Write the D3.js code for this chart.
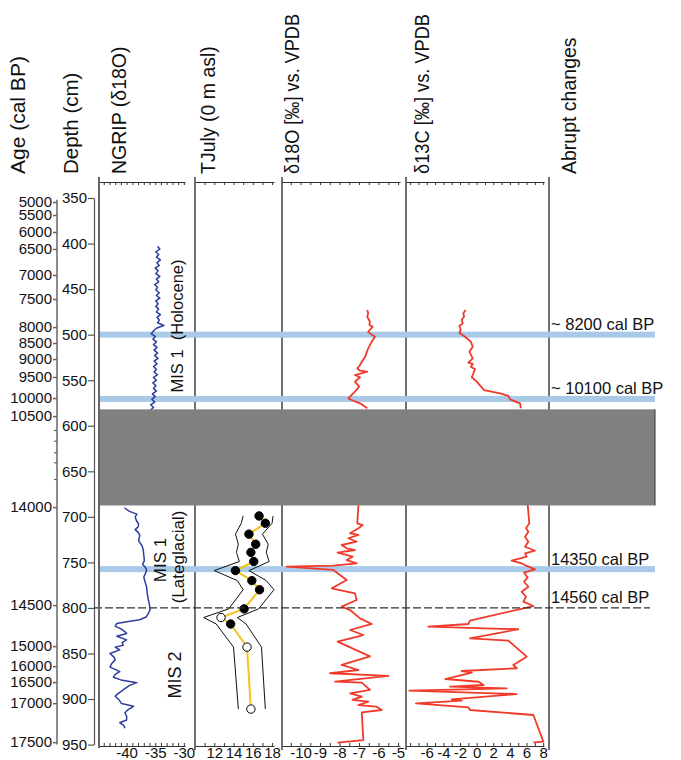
<!DOCTYPE html>
<html><head><meta charset="utf-8">
<script src="https://cdn.jsdelivr.net/npm/d3@7"></script>
<style>
body{margin:0;background:#fff}
text{font-family:"Liberation Sans",Arial,Helvetica,sans-serif;fill:#111}
</style>
</head><body>
<svg id="c" width="681" height="760"></svg>
<script>
// ---------------- DATA ----------------
const headerLabels = ["Age (cal BP)","Depth (cm)","NGRIP (δ18O)","TJuly (0 m asl)","δ18O [‰] vs. VPDB","δ13C [‰] vs. VPDB","Abrupt changes"];

const depthTicks = [350,400,450,500,550,600,650,700,750,800,850,900,950];
const ageLabels = [5000,5500,6000,6500,7000,7500,8000,8500,9000,9500,10000,10500,14000,14500,15000,16000,16500,17000,17500];
const ageDepths = [354.4,368.7,387.3,406,434.5,460.9,491.7,509.2,526.8,546.5,569.6,589.4,689.3,796.9,841.9,863.9,881.4,904.5,947.3];
const ageMinorDepths = [604.7,616.4,629.1,640.1,658.4];

const eventLabels = ["~ 8200 cal BP","~ 10100 cal BP","14350 cal BP","14560 cal BP"];
const bandDepths = [500,570.6,757.4];
const boundaryDepth = 800;
const hiatusDepths = [582,687.5];

// NGRIP δ18O (‰)
const ngripDepthA = [403,406,409,412,415,418,421,424,427,430,433,436,439,442,445,448,451,454,457,460,463,466,469,472,475,478,481,484,487,490,493,496,499,502,505,508,511,514,517,520,523,526,529,532,535,538,541,544,547,550,553,556,559,562,565,568,571,574,577,580,583,586];
const ngripA = [-34.6,-34.2,-34.9,-34.4,-34.8,-34.1,-34.7,-34.3,-35.0,-34.5,-34.9,-34.2,-34.8,-34.4,-35.1,-34.6,-34.9,-34.3,-34.8,-34.2,-34.9,-34.5,-34.9,-34.4,-34.8,-34.1,-34.7,-34.3,-34.6,-33.5,-34.8,-35.3,-35.7,-35.0,-35.4,-34.8,-35.3,-34.7,-35.2,-34.6,-35.1,-34.5,-35.2,-34.7,-35.3,-34.8,-35.2,-34.6,-35.3,-34.8,-35.4,-34.9,-35.3,-34.8,-35.5,-35.0,-35.6,-35.1,-35.8,-35.3,-35.9,-35.5];
const ngripDepthB = [690,694,697,700,704,708,711,714,717,720,726,732,736,742,748,752,755,758,762,766,771,777,784,791,797,802,806,810,813,815,817,820,823,826,828,831,835,838,841,843,846,850,854,857,861,865,868,870,873,876,879,882,885,890,894,897,901,905,908,912,915,919,923,926,929,932];
const ngripB = [-40.4,-39.5,-38.2,-38.5,-38.3,-37.9,-38.0,-38.5,-38.0,-37.7,-37.9,-37.3,-37.1,-37.0,-36.9,-37.2,-36.8,-36.5,-36.7,-37.0,-36.8,-36.5,-36.4,-36.2,-36.0,-35.9,-36.2,-36.6,-37.7,-39.7,-41.7,-42.0,-41.0,-40.3,-40.0,-41.7,-40.0,-40.8,-40.6,-42.0,-41.2,-42.9,-42.2,-42.0,-42.6,-42.9,-41.8,-41.2,-42.0,-42.3,-41.0,-38.2,-39.5,-40.6,-41.5,-42.0,-41.3,-40.9,-38.8,-39.8,-40.3,-40.0,-40.0,-41.2,-40.5,-40.3];

// TJuly (°C)
const tDepth = [699,707,719,730,739,749,759,770,780,801,810.5,817.6,843,911];
const tJuly  = [16.65,17.3,15.6,16.3,15.8,16.1,14.2,15.9,16.7,15.1,12.7,13.7,15.4,15.8];
const tFilled = [1,1,1,1,1,1,1,1,1,1,0,1,0,0];
const tLow  = [15.0,14.8,14.2,14.5,14.3,14.6,12.0,14.4,15.0,13.5,10.9,12.2,14.0,14.5];
const tHigh = [18.1,18.0,17.0,17.6,17.4,17.7,15.6,17.4,18.2,16.6,14.4,15.3,16.9,17.3];

// δ18O (‰ VPDB)
const o18DepthA = [472.9,476.6,480.3,485.8,489.4,491.3,496.8,498.6,502.3,507.7,515,524.2,529.7,533.3,536.9,539.6,540.7,544.3,546.8,551.6,557.1,562.6,569.9,571.7,575.4,580.8];
const o18A = [-6.58,-6.53,-6.58,-6.44,-6.47,-6.30,-6.53,-6.44,-6.18,-6.35,-6.53,-6.69,-6.86,-6.95,-7.09,-6.95,-6.58,-7.21,-6.95,-7.21,-6.99,-7.21,-7.55,-7.38,-6.95,-6.58];
const o18DepthB = [687,707.1,709,712.6,718.1,719.9,723.5,727.3,730.9,734.5,736.4,739.3,743.7,747.4,751,753.6,754.7,758.3,769.3,778.4,784,791.3,798.6,802.3,811.4,817.6,824.2,829.7,837,853.2,862.6,868.1,871.7,874.6,880.9,882,890,893.7,897.4,901,902.9,906.6,908.4,912,914.6,945,947.9];
const o18B = [-7.03,-7.09,-6.81,-7.03,-7.46,-7.03,-7.55,-7.12,-7.89,-7.63,-7.21,-8.1,-7.33,-7.63,-7.12,-8.32,-10.71,-8.32,-7.63,-8.4,-7.21,-7.12,-7.89,-7.46,-6.95,-6.35,-7.46,-6.78,-8.1,-6.44,-7.89,-7.03,-8.49,-5.49,-8.23,-6.86,-6.44,-7.46,-6.86,-7.33,-6.52,-7.03,-6.1,-5.84,-6.86,-6.78,-8.1];

// δ13C (‰ VPDB)
const c13DepthA = [472.9,476.6,480.3,483.9,487.6,490.5,494.9,497.9,502.3,507.7,513.2,518.7,526,530.8,532.2,535.2,538,546.8,551.6,560.8,564.4,567.3,571,575.4,580.8];
const c13A = [-1.32,-1.6,-1.52,-1.8,-1.67,-2.08,-1.91,-2.08,-1.40,-0.71,-0.47,-0.88,-0.47,-1.0,-0.47,-0.71,-0.19,-0.59,0.01,0.89,2.82,3.82,4.02,5.22,5.31];
const c13DepthB = [687,707.1,712.6,716.3,721.8,727.3,732.8,737.2,740,743.7,748.1,751,753.9,757.6,761.3,766.4,771.2,776.7,782.2,787.7,793.1,797.9,814,817.6,820.6,823.4,833.3,835.9,853.5,862.6,866.2,869.2,871,878,881,884.6,886.4,888.2,890.8,894.5,900.3,901.8,904.7,909.1,912,917.5,946.8,947.5];
const c13B = [6.14,6.33,5.94,6.22,5.82,6.22,5.82,7.02,5.82,6.02,4.21,5.41,6.02,7.02,5.70,6.14,5.70,6.22,5.41,5.94,5.62,6.82,-0.8,-1.0,-5.82,5.01,-0.8,3.82,6.02,4.41,4.82,-1.8,-0.59,-3.77,0.23,0.83,-3.2,3.62,-8.1,4.81,-3.0,-1.8,-7.3,-1.0,-0.8,6.82,8.02,6.82];

// axis tick values
const ngripMinor = [-44,-43,-42,-41,-40,-39,-38,-37,-36,-35,-34,-33,-32,-31,-30];
const ngripLabels = [-40,-35,-30];
const tMinor = [11,12,13,14,15,16,17,18];
const tLabels = [12,14,16,18];
const o18Minor = [-10.5,-10,-9.5,-9,-8.5,-8,-7.5,-7,-6.5,-6,-5.5,-5];
const o18Labels = [-10,-9,-8,-7,-6,-5];
const c13Minor = [-8,-7,-6,-5,-4,-3,-2,-1,0,1,2,3,4,5,6,7,8];
const c13Labels = [-6,-4,-2,0,2,4,6,8];

// ---------------- DRAW ----------------
const svg = d3.select("#c");
const y = d3.scaleLinear().domain([350,950]).range([198,744.6]);
const xNG = d3.scaleLinear().domain([-45,-29.8]).range([98,185]);
const xT  = d3.scaleLinear().domain([10,18.2]).range([195,274]);
const xO  = d3.scaleLinear().domain([-10.95,-4.9]).range([282,400]);
const xC  = d3.scaleLinear().domain([-8.5,8.1]).range([406,544]);
const TOP = 182, BOT = 746, XR = 655;
const blue = "#2d3e9c", red = "#f03a2a", yellow = "#f5c31c", band = "#a9c9e8";
const FONT = '"Liberation Sans",Arial,sans-serif';

// headers (rotated)
const hdrX = [25,78,126,215,299,429,576];
const hdrSize = [21,20.5,19.5,19.5,19.5,19.5,19.5];
const hdrLen = [null,null,null,null,160,160,null];
headerLabels.forEach((t,i)=>{
  const tx = svg.append("text").attr("transform",`translate(${hdrX[i]},174) rotate(-90)`)
    .attr("font-size",hdrSize[i]).text(t);
  if (hdrLen[i]) tx.attr("textLength",hdrLen[i]).attr("lengthAdjust","spacingAndGlyphs");
});

// panel borders
[195,282,406,549].forEach(x=>{
  svg.append("line").attr("x1",x).attr("x2",x).attr("y1",177).attr("y2",750)
    .attr("stroke","#111").attr("stroke-width",1.2);
});

// top & bottom axes for each panel
function panelAxes(sc, minor, labels){
  const top = d3.axisTop(sc).tickValues(minor).tickFormat("").tickSizeInner(-3).tickSizeOuter(0);
  svg.append("g").attr("transform",`translate(0,${TOP})`).call(top)
    .call(g=>g.selectAll("path,line").attr("stroke","#333"));
  const bot = d3.axisBottom(sc).tickValues(minor)
    .tickFormat(d=> labels.includes(d) ? String(d) : "")
    .tickSizeInner(-3).tickSizeOuter(0).tickPadding(1.5);
  svg.append("g").attr("transform",`translate(0,${BOT})`).call(bot)
    .call(g=>g.selectAll("path,line").attr("stroke","#333"))
    .call(g=>g.selectAll("text").attr("font-size",15).attr("font-family",FONT).attr("fill","#111"));
}
panelAxes(xNG, ngripMinor, ngripLabels);
panelAxes(xT, tMinor, tLabels);
panelAxes(xO, o18Minor, o18Labels);
panelAxes(xC, c13Minor, c13Labels);

// depth axis
svg.append("g").attr("transform","translate(94,0)")
  .call(d3.axisLeft(y).tickValues(depthTicks).tickSizeInner(6).tickSizeOuter(0).tickPadding(1))
  .call(g=>g.selectAll("path,line").attr("stroke","#555").attr("stroke-width",1.2))
  .call(g=>g.selectAll("text").attr("font-size",15).attr("font-family",FONT).attr("fill","#111"));

// age axis (non-linear: ticks placed at their depth)
svg.append("g").attr("transform","translate(57,0)")
  .call(d3.axisLeft(y).tickValues(ageDepths).tickFormat((d,i)=>ageLabels[i]).tickSizeInner(4).tickSizeOuter(0).tickPadding(1))
  .call(g=>g.select("path").attr("d",`M0,${y(352)}V${y(950)}`))
  .call(g=>g.selectAll("path,line").attr("stroke","#666").attr("stroke-width",1.5))
  .call(g=>g.selectAll("text").attr("font-size",15).attr("font-family",FONT).attr("fill","#111"));
svg.append("g").attr("transform","translate(57,0)")
  .call(d3.axisLeft(y).tickValues(ageMinorDepths).tickFormat("").tickSizeInner(3).tickSizeOuter(0))
  .call(g=>g.select("path").remove())
  .call(g=>g.selectAll("line").attr("stroke","#666").attr("stroke-width",1.2));

// blue bands
svg.selectAll("rect.band").data(bandDepths).join("rect").attr("class","band")
  .attr("x",99).attr("width",XR-99).attr("y",d=>y(d)-3).attr("height",6).attr("fill",band);

// lines
const mk = (xs, depths, vals)=> d3.line().x((d,i)=>xs(vals[i])).y((d,i)=>y(depths[i]))(depths);
function path(xs, depths, vals, col, w){
  svg.append("path").attr("d",mk(xs,depths,vals)).attr("fill","none").attr("stroke",col)
    .attr("stroke-width",w).attr("stroke-linejoin","round");
}
path(xNG, ngripDepthA, ngripA, blue, 1.5);
path(xNG, ngripDepthB, ngripB, blue, 1.5);
path(xO, o18DepthA, o18A, red, 1.8);
path(xO, o18DepthB, o18B, red, 1.8);
path(xC, c13DepthA, c13A, red, 1.8);
path(xC, c13DepthB, c13B, red, 1.8);

// TJuly envelope and points
path(xT, tDepth, tLow, "#111", 1);
path(xT, tDepth, tHigh, "#111", 1);
path(xT, tDepth, tJuly, yellow, 2);
svg.selectAll("circle.tj").data(tDepth).join("circle").attr("class","tj")
  .attr("cx",(d,i)=>xT(tJuly[i])).attr("cy",d=>y(d)).attr("r",4.2)
  .attr("fill",(d,i)=>tFilled[i]?"#000":"#fff").attr("stroke","#000").attr("stroke-width",1);

// boundary dashed line
svg.append("line").attr("x1",94).attr("x2",650).attr("y1",y(boundaryDepth)).attr("y2",y(boundaryDepth))
  .attr("stroke","#333").attr("stroke-width",1.3).attr("stroke-dasharray","8,3");

// hiatus box
svg.append("rect").attr("x",99).attr("width",XR-99).attr("y",y(hiatusDepths[0])).attr("height",y(hiatusDepths[1])-y(hiatusDepths[0]))
  .attr("fill","#808080");
svg.append("line").attr("x1",XR).attr("x2",XR).attr("y1",y(hiatusDepths[0])).attr("y2",y(hiatusDepths[1]))
  .attr("stroke","#333").attr("stroke-width",1);

// NGRIP left border (drawn over box)
svg.append("line").attr("x1",99).attr("x2",99).attr("y1",177).attr("y2",748)
  .attr("stroke","#666").attr("stroke-width",2);

// event labels
const evDepths = [bandDepths[0],bandDepths[1],bandDepths[2],boundaryDepth];
eventLabels.forEach((t,i)=>{
  svg.append("text").attr("x",551).attr("y",y(evDepths[i])-4.5).attr("font-size",16.5).text(t);
});

// MIS labels
function rotText(x, yc, t, fs){
  svg.append("text").attr("transform",`translate(${x},${yc}) rotate(-90)`).attr("text-anchor","middle")
    .attr("font-size",fs).attr("xml:space","preserve").style("white-space","pre").text(t);
}
rotText(183, 326, "MIS 1  (Holocene)", 16.5);
rotText(166, 560, "MIS 1", 17);
rotText(184, 557, "(Lateglacial)", 17);
rotText(181, 675, "MIS 2", 18);
</script>
</body></html>
